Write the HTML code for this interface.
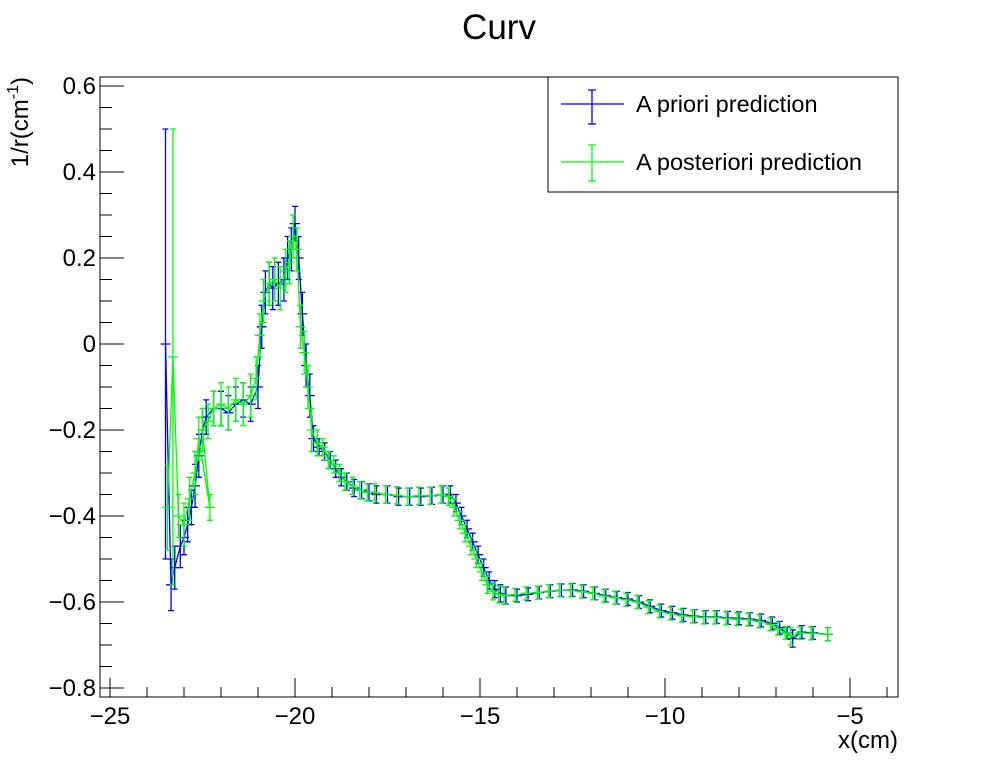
<!DOCTYPE html>
<html><head><meta charset="utf-8">
<style>
html,body{margin:0;padding:0;background:#fff;}
svg{display:block;font-family:"Liberation Sans",sans-serif;}
</style></head>
<body>
<svg id="chart" width="998" height="774" viewBox="0 0 998 774">
<rect x="0" y="0" width="998" height="774" fill="#fff"/>
<text x="499" y="39" font-size="35" text-anchor="middle">Curv</text>
<rect x="100" y="77" width="798" height="620" fill="none" stroke="#000" stroke-width="1"/>
<g id="axes"></g>
<g id="series"></g>
<text x="898" y="748" font-size="24" text-anchor="end">x(cm)</text>
<text transform="translate(28,77) rotate(-90)" font-size="24" text-anchor="end">1/r(cm<tspan dy="-10" font-size="16">-1</tspan><tspan dy="10">)</tspan></text>
<g>
<rect x="548" y="77" width="350" height="115" fill="#fff" stroke="#000" stroke-width="1"/>
<g stroke="#0000ff" stroke-width="1.3">
<line x1="561" y1="104" x2="624" y2="104"/><line x1="592" y1="90" x2="592" y2="124"/>
<line x1="588" y1="90" x2="596" y2="90"/><line x1="588" y1="124" x2="596" y2="124"/>
</g>
<text x="636" y="112" font-size="23.5">A priori prediction</text>
<g stroke="#00ff00" stroke-width="1.3">
<line x1="561" y1="162" x2="624" y2="162"/><line x1="592" y1="145" x2="592" y2="181"/>
<line x1="588" y1="145" x2="596" y2="145"/><line x1="588" y1="181" x2="596" y2="181"/>
</g>
<text x="636" y="170" font-size="23.5">A posteriori prediction</text>
</g>
</svg>
<script>
const xTicks = [-25, -20, -15, -10, -5];
const xTickLabels = ["\u221225", "\u221220", "\u221215", "\u221210", "\u22125"];
const yTicks = [-0.8, -0.6, -0.4, -0.2, 0, 0.2, 0.4, 0.6];
const yTickLabels = ["\u22120.8", "\u22120.6", "\u22120.4", "\u22120.2", "0", "0.2", "0.4", "0.6"];

const prioriX = [-23.5,-23.35,-23.25,-23.1,-23.0,-22.9,-22.8,-22.7,-22.6,-22.5,-22.4,-22.2,-22.0,-21.8,-21.6,-21.4,-21.2,-21.0,-20.9,-20.8,-20.7,-20.6,-20.45,-20.3,-20.2,-20.1,-20.0,-19.9,-19.8,-19.7,-19.6,-19.5,-19.35,-19.2,-19.05,-18.9,-18.75,-18.6,-18.4,-18.2,-18.0,-17.8,-17.5,-17.2,-16.9,-16.6,-16.3,-16.0,-15.8,-15.65,-15.5,-15.35,-15.2,-15.05,-14.9,-14.75,-14.6,-14.45,-14.3,-14.0,-13.7,-13.4,-13.1,-12.8,-12.5,-12.2,-11.9,-11.6,-11.3,-11.0,-10.7,-10.4,-10.1,-9.8,-9.5,-9.2,-8.9,-8.6,-8.3,-8.0,-7.7,-7.4,-7.1,-6.9,-6.7,-6.55,-6.3,-6.0,-5.6];
const prioriY = [0.0,-0.56,-0.52,-0.47,-0.45,-0.42,-0.38,-0.33,-0.26,-0.2,-0.17,-0.15,-0.15,-0.16,-0.14,-0.13,-0.14,-0.1,0.04,0.12,0.14,0.13,0.14,0.15,0.2,0.22,0.28,0.2,0.07,-0.05,-0.12,-0.22,-0.24,-0.25,-0.27,-0.29,-0.31,-0.32,-0.335,-0.34,-0.345,-0.35,-0.35,-0.355,-0.355,-0.355,-0.353,-0.35,-0.35,-0.37,-0.4,-0.43,-0.46,-0.49,-0.52,-0.55,-0.57,-0.58,-0.585,-0.585,-0.582,-0.578,-0.575,-0.573,-0.572,-0.575,-0.58,-0.585,-0.59,-0.593,-0.6,-0.61,-0.62,-0.625,-0.63,-0.633,-0.635,-0.635,-0.637,-0.638,-0.64,-0.643,-0.65,-0.66,-0.672,-0.685,-0.67,-0.672,-0.675];
const prioriErr = [0.5,0.06,0.05,0.05,0.04,0.04,0.04,0.05,0.05,0.05,0.04,0.04,0.04,0.04,0.04,0.04,0.04,0.05,0.05,0.05,0.05,0.05,0.05,0.05,0.05,0.05,0.04,0.05,0.05,0.05,0.05,0.03,0.02,0.02,0.02,0.02,0.02,0.02,0.02,0.02,0.02,0.02,0.02,0.02,0.02,0.02,0.02,0.02,0.02,0.02,0.02,0.02,0.02,0.02,0.02,0.02,0.02,0.02,0.02,0.015,0.015,0.015,0.015,0.015,0.015,0.015,0.015,0.015,0.015,0.015,0.015,0.015,0.015,0.015,0.015,0.015,0.015,0.015,0.015,0.015,0.015,0.015,0.015,0.015,0.015,0.02,0.015,0.015,0.015];

const postX = [-23.45,-23.3,-23.15,-23.0,-22.85,-22.7,-22.6,-22.3,-22.5,-22.35,-22.2,-22.0,-21.8,-21.6,-21.4,-21.2,-21.05,-20.95,-20.85,-20.7,-20.55,-20.4,-20.25,-20.15,-20.05,-19.95,-19.85,-19.75,-19.65,-19.55,-19.4,-19.25,-19.1,-18.95,-18.8,-18.65,-18.45,-18.25,-18.05,-17.85,-17.55,-17.25,-16.95,-16.65,-16.35,-16.05,-15.85,-15.7,-15.55,-15.4,-15.25,-15.1,-14.95,-14.8,-14.65,-14.5,-14.35,-14.05,-13.75,-13.45,-13.15,-12.85,-12.55,-12.25,-11.95,-11.65,-11.35,-11.05,-10.75,-10.45,-10.15,-9.85,-9.55,-9.25,-8.95,-8.65,-8.35,-8.05,-7.75,-7.45,-7.15,-6.95,-6.75,-6.6,-6.35,-6.05,-5.6];
const postY = [-0.38,-0.03,-0.4,-0.42,-0.36,-0.3,-0.22,-0.38,-0.2,-0.18,-0.15,-0.14,-0.15,-0.13,-0.14,-0.12,-0.08,0.02,0.1,0.14,0.15,0.13,0.17,0.19,0.25,0.22,0.04,-0.02,-0.1,-0.2,-0.23,-0.24,-0.27,-0.28,-0.3,-0.32,-0.33,-0.34,-0.345,-0.345,-0.35,-0.352,-0.355,-0.353,-0.353,-0.35,-0.355,-0.38,-0.41,-0.44,-0.47,-0.5,-0.53,-0.56,-0.575,-0.582,-0.585,-0.583,-0.58,-0.578,-0.575,-0.573,-0.573,-0.576,-0.58,-0.586,-0.59,-0.595,-0.6,-0.612,-0.622,-0.627,-0.632,-0.634,-0.636,-0.636,-0.638,-0.64,-0.641,-0.645,-0.652,-0.662,-0.672,-0.68,-0.672,-0.673,-0.675];
const postErr = [0.1,0.53,0.05,0.05,0.05,0.05,0.05,0.03,0.05,0.04,0.04,0.05,0.05,0.05,0.05,0.05,0.05,0.05,0.05,0.05,0.05,0.05,0.05,0.05,0.05,0.05,0.05,0.05,0.05,0.05,0.03,0.02,0.02,0.02,0.02,0.02,0.02,0.02,0.02,0.02,0.02,0.02,0.02,0.02,0.02,0.02,0.02,0.02,0.02,0.02,0.02,0.02,0.02,0.02,0.02,0.02,0.02,0.015,0.015,0.015,0.015,0.015,0.015,0.015,0.015,0.015,0.015,0.015,0.015,0.015,0.015,0.015,0.015,0.015,0.015,0.015,0.015,0.015,0.015,0.015,0.015,0.015,0.015,0.02,0.015,0.015,0.015];

const NS = "http://www.w3.org/2000/svg";
function sx(v){ return 110 + (v + 25) * 37; }
function sy(v){ return 344 - v * 430; }
function mk(tag, attrs, parent){
  const e = document.createElementNS(NS, tag);
  for (const k in attrs) e.setAttribute(k, attrs[k]);
  parent.appendChild(e);
  return e;
}
const axes = document.getElementById('axes');
for (let v = -25; v <= -4; v += 1) {
  const major = xTicks.indexOf(v) >= 0;
  const t = mk('line', {x1: sx(v), x2: sx(v), y1: 697, y2: 697 - (major ? 19 : 10), stroke: '#000'}, axes);
  
  
}
xTicks.forEach((v, i) => {
  const t = mk('text', {x: sx(v), y: 724, 'font-size': 24, 'text-anchor': 'middle'}, axes);
  t.textContent = xTickLabels[i];
  
  
});
for (let k = -16; k <= 12; k++) {
  const v = k * 0.05;
  const major = (k % 4 === 0);
  const t = mk('line', {x1: 100, x2: 100 + (major ? 24 : 12), y1: sy(v), y2: sy(v), stroke: '#000'}, axes);
  
  
}
yTicks.forEach((v, i) => {
  const t = mk('text', {x: 96, y: sy(v) + 8, 'font-size': 24, 'text-anchor': 'end'}, axes);
  t.textContent = yTickLabels[i];
  
  
});

const series = document.getElementById('series');
function drawSeries(xs, ys, es, color, name){
  const g = mk('g', {stroke: color, fill: 'none', 'stroke-width': 1.3}, series);
  
  
  const pts = xs.map((x, i) => sx(x).toFixed(1) + ',' + sy(ys[i]).toFixed(1)).join(' ');
  const pl = mk('polyline', {points: pts}, g);
  
  
  xs.forEach((x, i) => {
    const cx = sx(x), cy = sy(ys[i]), t = sy(ys[i] + es[i]), b = sy(ys[i] - es[i]);
    const eb = mk('path', {d: `M${cx-5},${cy}H${cx+5}M${cx},${t}V${b}M${cx-3},${t}H${cx+3}M${cx-3},${b}H${cx+3}`}, g);
    
    
  });
}
drawSeries(prioriX, prioriY, prioriErr, '#0000ff', 'a-priori-series');
drawSeries(postX, postY, postErr, '#00ff00', 'a-posteriori-series');
</script>
</body></html>
